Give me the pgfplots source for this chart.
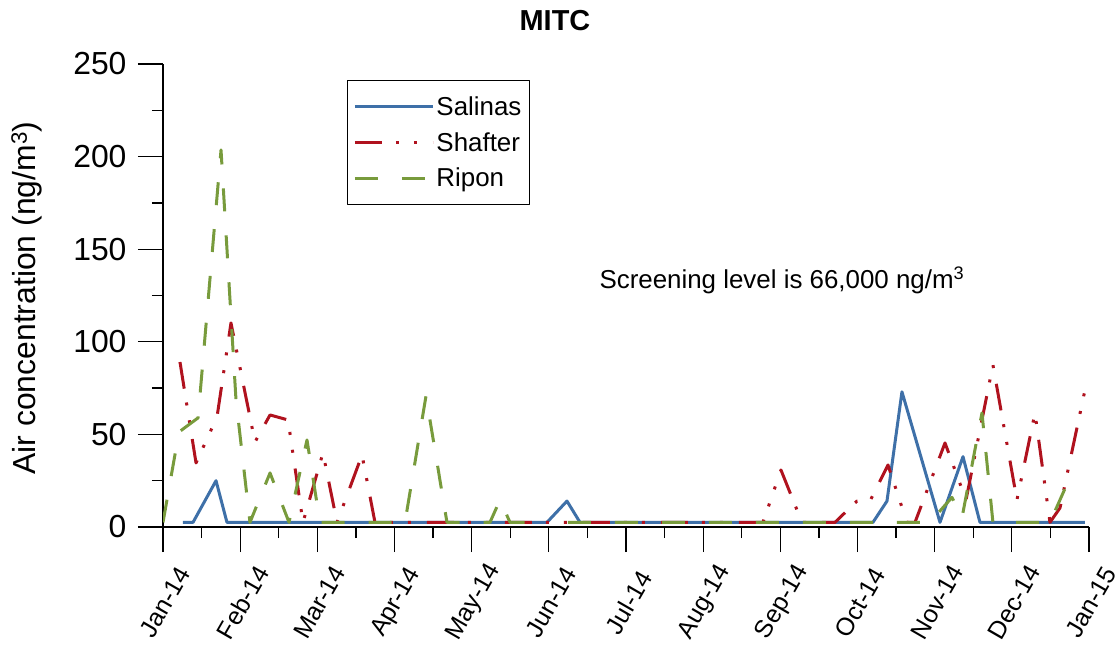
\documentclass[border=0pt]{standalone}
\usepackage{pgfplots}
\pgfplotsset{compat=1.18}
\usepackage{fontspec}
\setmainfont{Liberation Sans}
\definecolor{cblue}{RGB}{62,112,168}
\definecolor{cred}{RGB}{176,18,30}
\definecolor{cgreen}{RGB}{120,155,60}
\begin{document}
\begin{tikzpicture}
\path[use as bounding box] (0bp,0bp) rectangle (1115bp,654bp);
\begin{axis}[
  at={(163bp,127bp)}, anchor=south west,
  scale only axis, width=926bp, height=463bp,
  xmin=0, xmax=12, ymin=0, ymax=250,
  axis x line*=bottom, axis y line*=left,
  hide obscured x ticks=false, hide obscured y ticks=false,
  axis line style={line width=1.3bp},
  tick align=outside,
  major tick length=25bp, minor tick length=11bp,
  every tick/.style={black, line width=1.3bp},
  xtick={0,1,2,3,4,5,6,7,8,9,10,11,12},
  xticklabel={\pgfmathtruncatemacro\mi{round(\tick)}\ifcase\mi Jan-14\or Feb-14\or Mar-14\or Apr-14\or May-14\or Jun-14\or Jul-14\or Aug-14\or Sep-14\or Oct-14\or Nov-14\or Dec-14\or Jan-15\fi},
  minor x tick num=1,
  ytick={0,50,...,250}, minor y tick num=1,
  /pgf/number format/assume math mode=true,
  yticklabel style={font=\fontsize{32}{32}\selectfont, xshift=-8bp},
  xticklabel style={font=\fontsize{25}{25}\selectfont, rotate=60, anchor=center, xshift=-42.5bp, yshift=-27.3bp},
  ylabel={Air concentration (ng/m\textsuperscript{3})},
  ylabel style={font=\fontsize{32}{32}\selectfont, at={(axis description cs:-0.1469,0.4946)}, anchor=center},
  title={MITC},
  title style={font=\fontsize{29}{29}\selectfont\bfseries, at={(axis description cs:0.4233,1.08)}, anchor=center},
  legend style={at={(axis description cs:0.1987,0.965)}, anchor=north west, draw=black, line width=1bp, font=\fontsize{26}{26}\selectfont, inner xsep=6bp, inner ysep=14bp, row sep=11.5bp},
  legend cell align=left,
  legend image code/.code={\draw[#1] (0bp,0bp) -- (78bp,0bp);},
  unbounded coords=jump,
  line join=round,
]
\addplot[cblue, line width=3bp] coordinates {(0.259,2.5)(0.389,2.5)(0.687,25)(0.829,2.5)(4.976,2.5)(5.235,14)(5.404,2.5)(9.200,2.5)(9.382,14)(9.576,73)(10.069,2.5)(10.367,38)(10.587,2.5)(11.948,2.5)};
\addlegendentry{Salinas}
\addplot[cred, line width=3bp, dash pattern=on 27bp off 14bp on 3bp off 15bp on 3bp off 16bp] coordinates {(0.220,89.1)(0.428,34.6)(0.700,59.4)(0.881,110.2)(1.192,45.9)(1.387,60.5)(1.620,57.8)(1.814,2.5)(2.073,40.0)(2.255,2.5)(2.579,38.9)(2.747,2.5)(7.775,2.5)(8.008,30.8)(8.280,2.5)(8.708,2.5)(8.993,14)(9.162,14)(9.395,33.5)(9.641,2.5)(9.745,2.5)(10.134,45.4)(10.406,14.6)(10.755,87.5)(11.066,14.6)(11.300,61.6)(11.494,2.5)(11.624,10.3)(11.948,74.0)};
\addlegendentry{Shafter}
\addplot[cgreen, line width=3bp, dash pattern=on 23bp off 24bp] coordinates {(0,2.5)(0.207,51.3)(0.454,58.9)(0.752,203.6)(0.946,68.6)(1.127,2.5)(1.387,29.2)(1.633,2.5)(1.866,47)(2.034,2.5)(3.136,2.5)(3.408,70.7)(3.680,2.5)(4.237,2.5)(4.367,14.6)(4.497,2.5)(4.976,2.5)(5.1,nan)(5.248,2.5)(9.939,2.5)(10.224,16)(10.354,5)(10.613,61.6)(10.755,2.5)(11.494,2.5)(11.727,24.3)};
\addlegendentry{Ripon}
\node[anchor=west, font=\fontsize{26}{26}\selectfont] at (axis description cs:0.4676,0.5335) {Screening level is 66,000 ng/m\textsuperscript{3}};
\end{axis}
\end{tikzpicture}
\end{document}
